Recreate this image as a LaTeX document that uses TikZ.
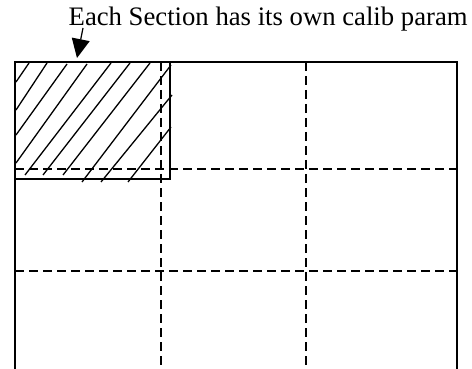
\documentclass[tikz,border=0pt]{standalone}
\usepackage{fontspec}
\setmainfont{Liberation Serif}
\usetikzlibrary{arrows.meta}
\begin{document}
\begin{tikzpicture}[x=1pt,y=-1pt,
  frame/.style={line width=1.9pt,line cap=rect},
  grid/.style={line width=1.4pt,dash pattern=on 9pt off 5pt},
  hatch/.style={line width=1.3pt},
  pointer/.style={line width=1.2pt,-{Triangle[length=19pt,width=18pt]}}]
\useasboundingbox (0,0) rectangle (472,369);
% grid
\draw[grid] (161,62) -- (161,369);
\draw[grid] (306,62) -- (306,369);
\draw[grid] (15,169) -- (457,169);
\draw[grid] (15,271) -- (457,271);
% outer frame (open at bottom)
\draw[frame] (15,369) -- (15,62) -- (457,62) -- (457,369);
% hatched section
\draw[frame] (15,62) rectangle (170,179);
\draw[hatch] (16,82) -- (29,63);
\draw[hatch] (16,110) -- (47,63);
\draw[hatch] (16,135) -- (67,64);
\draw[hatch] (16,163) -- (87,64);
\draw[hatch] (25,175) -- (111,63);
\draw[hatch] (43,175) -- (130,63);
\draw[hatch] (63,175) -- (150,63);
\draw[hatch] (82,182) -- (171,65);
\draw[hatch] (101,182) -- (172,95);
\draw[hatch] (128,182) -- (171,127);
% label and arrow
\node[anchor=base west,inner sep=0pt,font=\fontsize{26.7}{30}\selectfont] (lbl) at (68.5,26) {Each Section has its own calib param};
\coordinate (tail) at (83,28);
\coordinate (tip) at (77,58);
\draw[pointer] (tail) -- (tip);
\end{tikzpicture}
\end{document}
